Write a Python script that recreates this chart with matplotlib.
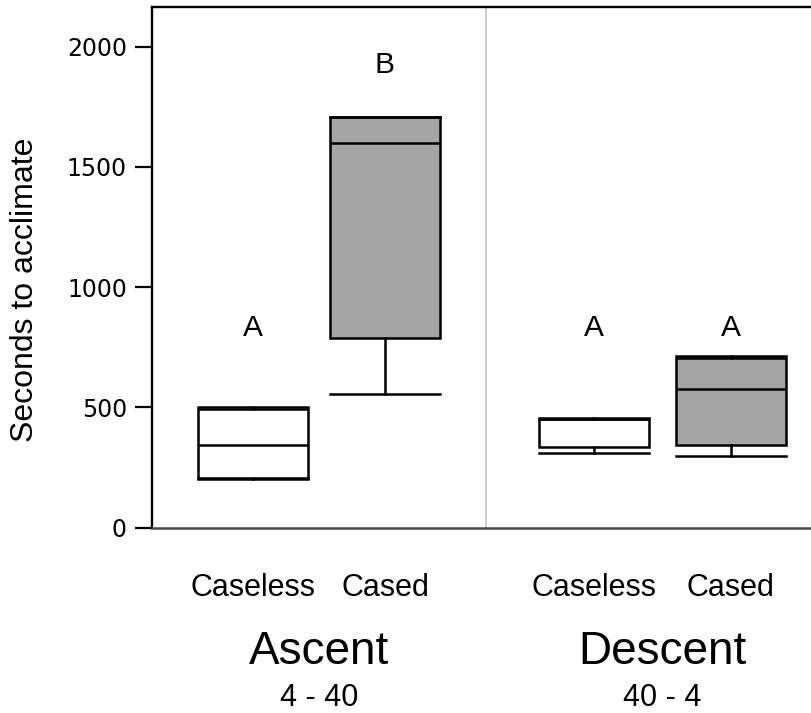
import matplotlib
matplotlib.use("Agg")
import matplotlib.pyplot as plt

# acclimation time summaries, one box per group
groups = ["Ascent", "Descent"]
ranges = ["4 - 40", "40 - 4"]
conditions = ["Caseless", "Cased", "Caseless", "Cased"]
whisker_low = [202, 556, 311, 298]
quartile_1 = [208, 788, 334, 344]
medians = [344, 1601, 452, 578]
quartile_3 = [494, 1709, 450, 707]
whisker_high = [500, 1709, 456, 713]
letters = ["A", "B", "A", "A"]
letter_y = [796, 1890, 796, 796]
fills = ["white", "#a5a5a5", "white", "#a5a5a5"]

positions = [1, 2, 3.58, 4.62]
divider = 2.765
sans = ["Liberation Sans", "DejaVu Sans"]

fig = plt.figure(figsize=(8.11, 7.13), dpi=100)
ax = fig.add_axes([0.1874, 0.260, 0.8126, 0.730])

stats = [
    {"whislo": lo, "q1": a, "med": m, "q3": b, "whishi": hi, "fliers": []}
    for lo, a, m, b, hi in zip(whisker_low, quartile_1, medians, quartile_3, whisker_high)
]
line = dict(color="black", linewidth=1.8)
bp = ax.bxp(
    stats,
    positions=positions,
    widths=0.833,
    patch_artist=True,
    showfliers=False,
    boxprops=dict(edgecolor="black", linewidth=1.8),
    medianprops=line,
    whiskerprops=line,
    capprops=line,
    capwidths=0.833,
    manage_ticks=False,
)
for box, color in zip(bp["boxes"], fills):
    box.set_facecolor(color)

for x, y, letter in zip(positions, letter_y, letters):
    ax.text(x, y, letter, ha="center", va="baseline", fontsize=21.5, family=sans)

ax.axvline(divider, color="#c8c8c8", linewidth=1.3, zorder=0)

ax.set_xlim(0.235, 5.227)
ax.set_ylim(0, 2164)
ax.set_yticks([0, 500, 1000, 1500, 2000])
ax.set_xticks([])
ax.tick_params(axis="y", length=12, width=1.6, pad=6, labelsize=17)
for label in ax.get_yticklabels():
    label.set_family("DejaVu Sans")

ax.spines["right"].set_visible(False)
ax.spines["left"].set_linewidth(1.7)
ax.spines["top"].set_linewidth(1.7)
ax.spines["bottom"].set_linewidth(1.8)
ax.spines["bottom"].set_color("#4a4a4a")

ax.set_ylabel("Seconds to acclimate", fontsize=23, family=sans, va="center")
ax.yaxis.set_label_coords(-0.192, 0.456)

# category and group names under the axis
xform = ax.get_xaxis_transform()
for x, name in zip(positions, conditions):
    ax.text(x, -0.1316, name, transform=xform, ha="center", va="baseline",
            fontsize=22, family=sans)
for i, (group, rng) in enumerate(zip(groups, ranges)):
    mid = (positions[2 * i] + positions[2 * i + 1]) / 2
    ax.text(mid, -0.2622, group, transform=xform, ha="center", va="baseline",
            fontsize=33, family=sans)
    ax.text(mid, -0.343, rng, transform=xform, ha="center", va="baseline",
            fontsize=22, family=sans)

fig.savefig("out.png", dpi=100)
